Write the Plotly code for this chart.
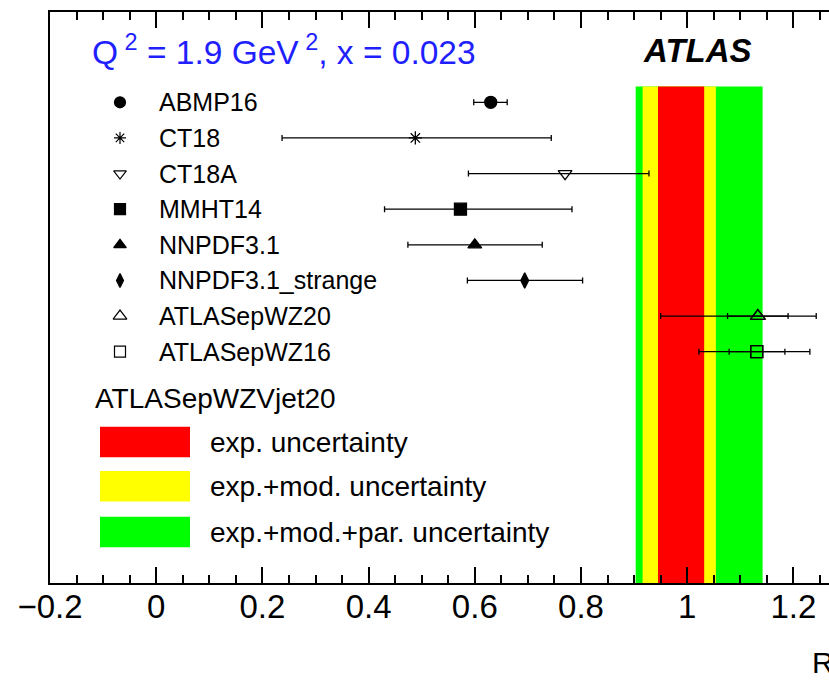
import plotly.graph_objects as go

# ---------------- data ----------------
pdf_names = ["ABMP16", "CT18", "CT18A", "MMHT14", "NNPDF3.1",
             "NNPDF3.1_strange", "ATLASepWZ20", "ATLASepWZ16"]
rs_central = [0.630, 0.488, 0.770, 0.573, 0.600, 0.694, 1.133, 1.131]
rs_err_minus = [0.032, 0.251, 0.182, 0.143, 0.126, 0.108, 0.183, 0.109]
rs_err_plus = [0.031, 0.256, 0.158, 0.210, 0.127, 0.109, 0.110, 0.100]
# inner (experimental) error for the ATLAS fits
atlas_names = ["ATLASepWZ20", "ATLASepWZ16"]
atlas_inner_minus = [0.057, 0.052]
atlas_inner_plus = [0.057, 0.053]

band_labels = ["exp.+mod.+par. uncertainty", "exp.+mod. uncertainty", "exp. uncertainty"]
band_lo = [0.903, 0.916, 0.945]
band_hi = [1.142, 1.054, 1.032]

x_ticks = [-0.2, 0, 0.2, 0.4, 0.6, 0.8, 1.0, 1.2]
x_ticktext = ["\u22120.2", "0", "0.2", "0.4", "0.6", "0.8", "1", "1.2"]
x_minor_step = 0.05

# ---------------- styles ----------------
FONT = "Liberation Sans, Arial, Helvetica, sans-serif"
band_colors = ["#00ff00", "#ffff00", "#ff0000"]
symbols = ["circle", "asterisk-open", "triangle-down-open", "square",
           "triangle-up", "diamond-tall", "triangle-up-open", "square-open"]
sizes = [12, 11, 12, 12, 12, 11, 13, 12]

W, H = 829, 681
L, R, T, B = 50, 0, 12, 98
pw, ph = W - L - R, H - T - B
x_range = [-0.2, -0.2 + pw / 531.0]
row_px = 35.63
y_top = -(102.3 - T) / row_px
y_range = [y_top + ph / row_px, y_top]


def px2paper_x(px):
    return (px - L) / pw


def py2paper_y(py):
    return (H - B - py) / ph


rows = list(range(len(pdf_names)))
fig = go.Figure()

# bands
for lo, hi, col in zip(band_lo, band_hi, band_colors):
    fig.add_shape(type="rect", xref="x", yref="y", x0=lo, x1=hi,
                  y0=-0.44, y1=y_range[0], fillcolor=col, line_width=0,
                  layer="below")

# outer error bars + markers
for i, name in enumerate(pdf_names):
    fig.add_trace(go.Scatter(
        x=[rs_central[i]], y=[rows[i]], mode="markers",
        marker=dict(symbol=symbols[i], size=sizes[i], color="black",
                    line=dict(color="black", width=1.3)),
        error_x=dict(type="data", symmetric=False, array=[rs_err_plus[i]],
                     arrayminus=[rs_err_minus[i]], color="black",
                     thickness=1.3, width=3),
        showlegend=False, cliponaxis=False))

# inner error ticks for ATLAS fits
for j, name in enumerate(atlas_names):
    i = pdf_names.index(name)
    fig.add_trace(go.Scatter(
        x=[rs_central[i]], y=[rows[i]], mode="markers",
        marker=dict(symbol=symbols[i], size=sizes[i], color="black",
                    line=dict(color="black", width=1.3)),
        error_x=dict(type="data", symmetric=False, array=[atlas_inner_plus[j]],
                     arrayminus=[atlas_inner_minus[j]], color="black",
                     thickness=1.3, width=3),
        showlegend=False))

# legend markers (left)
leg_x = -0.2 + (120 - L) / 531.0
for i, name in enumerate(pdf_names):
    fig.add_trace(go.Scatter(
        x=[leg_x], y=[rows[i]], mode="markers",
        marker=dict(symbol=symbols[i], size=sizes[i] - 1, color="black",
                    line=dict(color="black", width=1.2)),
        showlegend=False, hoverinfo="skip"))
    fig.add_annotation(x=px2paper_x(157), xref="paper", y=rows[i], yref="y",
                       text=name, showarrow=False, xanchor="left",
                       yanchor="middle",
                       font=dict(family=FONT, size=25, color="black"))

# band legend
fig.add_annotation(x=px2paper_x(93), xref="paper", y=py2paper_y(398), yref="paper",
                   text="ATLASepWZVjet20", showarrow=False, xanchor="left",
                   yanchor="middle", font=dict(family=FONT, size=28, color="black"))
box_tops = [516.7, 471.0, 426.7]
for lab, col, top in zip(band_labels, band_colors, box_tops):
    fig.add_shape(type="rect", xref="paper", yref="paper",
                  x0=px2paper_x(100), x1=px2paper_x(190),
                  y0=py2paper_y(top + 30.6), y1=py2paper_y(top),
                  fillcolor=col, line_width=0)
    fig.add_annotation(x=px2paper_x(208), xref="paper", y=py2paper_y(top + 15.5),
                       yref="paper", text=lab, showarrow=False, xanchor="left",
                       yanchor="middle", font=dict(family=FONT, size=28, color="black"))

# header texts
fig.add_annotation(x=px2paper_x(90), xref="paper", y=py2paper_y(50), yref="paper",
                   text="Q<sup> 2</sup> = 1.9 GeV<sup> 2</sup>, x = 0.023",
                   showarrow=False, xanchor="left", yanchor="middle",
                   font=dict(family=FONT, size=33.5, color="#1f1fff"))
fig.add_annotation(x=px2paper_x(697), xref="paper", y=py2paper_y(51), yref="paper",
                   text="<b><i>ATLAS</i></b>", showarrow=False, xanchor="center",
                   yanchor="middle", font=dict(family=FONT, size=33, color="black"))
# axis title (cropped at right edge)
fig.add_annotation(x=px2paper_x(810), xref="paper", y=py2paper_y(662), yref="paper",
                   text="R", showarrow=False, xanchor="left",
                   yanchor="middle", font=dict(family=FONT, size=30, color="black"))

fig.update_layout(
    width=W, height=H, margin=dict(l=L, r=R, t=T, b=B),
    plot_bgcolor="white", paper_bgcolor="white", showlegend=False,
    xaxis=dict(range=x_range, tickmode="array", tickvals=x_ticks, ticktext=x_ticktext,
               ticks="inside", ticklen=16, tickwidth=1.5, tickcolor="black",
               showline=True, linecolor="black", linewidth=1.5, mirror="ticks",
               showgrid=False, zeroline=False, ticklabelstandoff=-6,
               minor=dict(tick0=0, dtick=x_minor_step, ticks="inside", ticklen=8,
                          tickwidth=1.5, tickcolor="black", showgrid=False),
               tickfont=dict(family=FONT, size=33, color="black")),
    yaxis=dict(range=y_range, showticklabels=False, ticks="", showgrid=False,
               zeroline=False, showline=True, linecolor="black", linewidth=1.5),
)

fig.write_html("out.html")
